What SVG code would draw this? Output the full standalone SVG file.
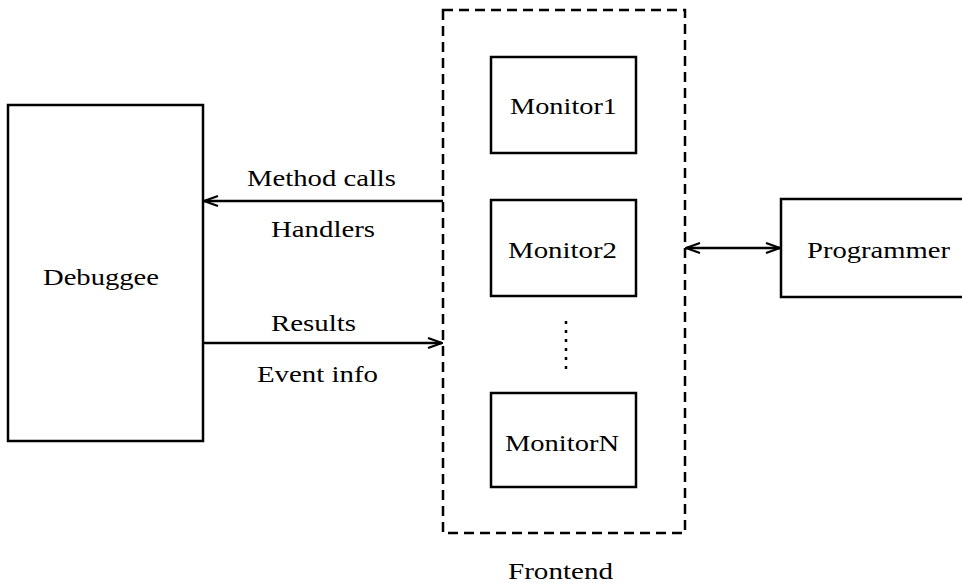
<svg xmlns="http://www.w3.org/2000/svg" width="962" height="583" viewBox="0 0 962 583">
<style>
.box{fill:#fff;stroke:#000;stroke-width:2.5}
.dash{fill:none;stroke:#000;stroke-width:2.5;stroke-dasharray:10 6}
.t{font-family:"Liberation Serif","Times New Roman",serif;font-size:23px;fill:#000}
.ln{fill:none;stroke:#000;stroke-width:2.5}
</style>
<defs>
<marker id="ah" viewBox="0 0 16 12" refX="15" refY="6" markerWidth="16" markerHeight="12" markerUnits="userSpaceOnUse" orient="auto-start-reverse">
<path d="M1,1 L15,6 L1,11 M15,6 L6,6" fill="none" stroke="#000" stroke-width="2.2"/>
</marker>
</defs>
<g id="frontend">
<rect class="dash" x="443" y="10" width="242" height="523"/>
<text class="t" x="508" y="579" textLength="105" lengthAdjust="spacingAndGlyphs">Frontend</text>
</g>
<g id="debuggee">
<rect class="box" x="8" y="105" width="195" height="336"/>
<text class="t" x="43" y="285" textLength="116" lengthAdjust="spacingAndGlyphs">Debuggee</text>
</g>
<g id="monitor1">
<rect class="box" x="491" y="57" width="145" height="96"/>
<text class="t" x="510" y="114" textLength="107" lengthAdjust="spacingAndGlyphs">Monitor1</text>
</g>
<g id="monitor2">
<rect class="box" x="491" y="200" width="145" height="96"/>
<text class="t" x="508" y="258" textLength="109" lengthAdjust="spacingAndGlyphs">Monitor2</text>
</g>
<g id="monitorN">
<rect class="box" x="491" y="393" width="145" height="94"/>
<text class="t" x="505" y="451" textLength="114" lengthAdjust="spacingAndGlyphs">MonitorN</text>
</g>
<g id="programmer">
<rect class="box" x="781" y="199" width="200" height="98"/>
<text class="t" x="807" y="258" textLength="143" lengthAdjust="spacingAndGlyphs">Programmer</text>
</g>
<g id="connectors">
<line class="ln" x1="443" y1="201" x2="204" y2="201" marker-end="url(#ah)"/>
<line class="ln" x1="203" y1="343" x2="442" y2="343" marker-end="url(#ah)"/>
<line class="ln" x1="686" y1="248" x2="780" y2="248" marker-start="url(#ah)" marker-end="url(#ah)"/>
<line x1="566" y1="321" x2="566" y2="370" stroke="#000" stroke-width="2.5" stroke-dasharray="3 6"/>
<text class="t" x="247" y="186" textLength="149" lengthAdjust="spacingAndGlyphs">Method calls</text>
<text class="t" x="271" y="237" textLength="104" lengthAdjust="spacingAndGlyphs">Handlers</text>
<text class="t" x="271" y="331" textLength="85" lengthAdjust="spacingAndGlyphs">Results</text>
<text class="t" x="257" y="382" textLength="121" lengthAdjust="spacingAndGlyphs">Event info</text>
</g>
</svg>
